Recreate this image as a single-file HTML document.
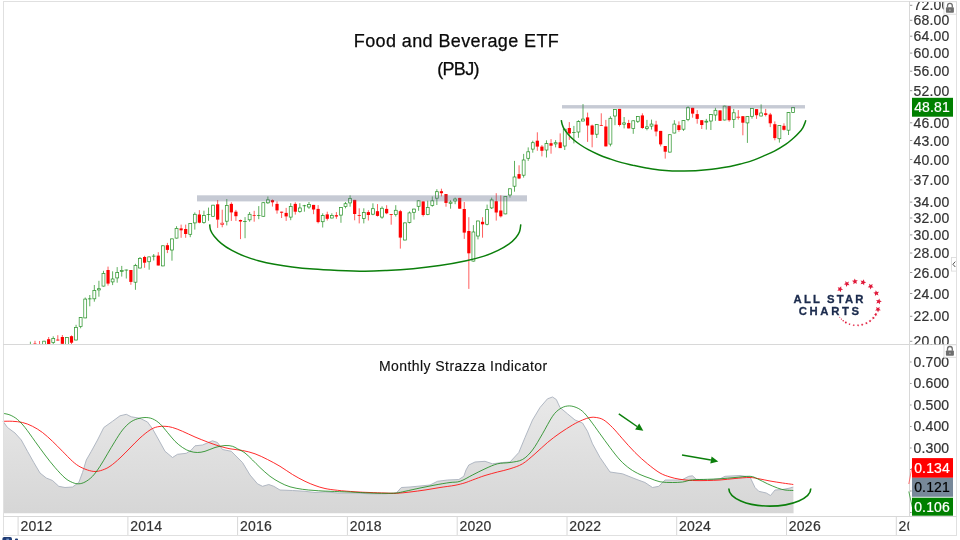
<!DOCTYPE html>
<html lang="en"><head><meta charset="utf-8"><title>Food and Beverage ETF (PBJ)</title>
<style>
html,body{margin:0;padding:0;background:#ffffff;}
body{width:960px;height:540px;overflow:hidden;position:relative;font-family:"Liberation Sans","DejaVu Sans",sans-serif;}
svg text{white-space:pre;}
</style></head><body>
<svg width="960" height="540" viewBox="0 0 960 540" style="position:absolute;left:0;top:0;display:block">
<defs>
<linearGradient id="gfill" x1="0" y1="395" x2="0" y2="513" gradientUnits="userSpaceOnUse"><stop offset="0" stop-color="#e9e9e9"/><stop offset="1" stop-color="#d6d6d6"/></linearGradient>
<clipPath id="cpPrice"><rect x="4" y="2" width="905" height="342.3"/></clipPath>
<clipPath id="cpAxP"><rect x="910" y="2" width="46" height="342.3"/></clipPath>
<clipPath id="cpAxI"><rect x="910" y="345" width="46" height="171"/></clipPath>
<clipPath id="cpTime"><rect x="4" y="517" width="905.3" height="18"/></clipPath>
<clipPath id="cpBot"><rect x="0" y="537" width="960" height="3"/></clipPath>
</defs>
<rect x="0" y="0" width="960" height="540" fill="#ffffff"/>
<g clip-path="url(#cpPrice)">
<line x1="30.40" y1="341.7" x2="30.40" y2="345.0" stroke="#008000" stroke-width="0.85" stroke-opacity="0.75"/>
<rect x="28.95" y="346.4" width="2.9" height="0.2" fill="#ffffff" stroke="#008000" stroke-width="0.75" stroke-opacity="0.8"/>
<line x1="34.97" y1="340.8" x2="34.97" y2="345.0" stroke="#ff0000" stroke-width="0.85" stroke-opacity="0.75"/>
<rect x="33.37" y="343.6" width="3.2" height="2.4" fill="#ff0000"/>
<line x1="39.54" y1="341.0" x2="39.54" y2="345.0" stroke="#ff0000" stroke-width="0.85" stroke-opacity="0.75"/>
<rect x="37.94" y="346.0" width="3.2" height="1.0" fill="#ff0000"/>
<line x1="44.11" y1="340.8" x2="44.11" y2="345.0" stroke="#008000" stroke-width="0.85" stroke-opacity="0.75"/>
<rect x="42.66" y="341.2" width="2.9" height="5.4" fill="#ffffff" stroke="#008000" stroke-width="0.75" stroke-opacity="0.8"/>
<line x1="48.67" y1="337.0" x2="48.67" y2="344.0" stroke="#ff0000" stroke-width="0.85" stroke-opacity="0.75"/>
<rect x="47.07" y="339.2" width="3.2" height="4.8" fill="#ff0000"/>
<line x1="53.24" y1="336.3" x2="53.24" y2="344.2" stroke="#008000" stroke-width="0.85" stroke-opacity="0.75"/>
<rect x="51.79" y="338.4" width="2.9" height="4.2" fill="#ffffff" stroke="#008000" stroke-width="0.75" stroke-opacity="0.8"/>
<line x1="57.81" y1="335.2" x2="57.81" y2="340.5" stroke="#ff0000" stroke-width="0.85" stroke-opacity="0.75"/>
<rect x="56.21" y="339.6" width="3.2" height="0.9" fill="#ff0000"/>
<line x1="62.37" y1="335.0" x2="62.37" y2="343.8" stroke="#ff0000" stroke-width="0.85" stroke-opacity="0.75"/>
<rect x="60.77" y="337.0" width="3.2" height="6.8" fill="#ff0000"/>
<line x1="66.94" y1="337.0" x2="66.94" y2="345.0" stroke="#008000" stroke-width="0.85" stroke-opacity="0.75"/>
<rect x="65.49" y="337.4" width="2.9" height="9.2" fill="#ffffff" stroke="#008000" stroke-width="0.75" stroke-opacity="0.8"/>
<line x1="71.51" y1="335.4" x2="71.51" y2="344.2" stroke="#ff0000" stroke-width="0.85" stroke-opacity="0.75"/>
<rect x="69.91" y="336.2" width="3.2" height="6.5" fill="#ff0000"/>
<line x1="76.07" y1="324.8" x2="76.07" y2="340.4" stroke="#008000" stroke-width="0.85" stroke-opacity="0.75"/>
<rect x="74.62" y="327.4" width="2.9" height="12.6" fill="#ffffff" stroke="#008000" stroke-width="0.75" stroke-opacity="0.8"/>
<line x1="80.64" y1="317.2" x2="80.64" y2="328.3" stroke="#008000" stroke-width="0.85" stroke-opacity="0.75"/>
<rect x="79.19" y="317.6" width="2.9" height="9.0" fill="#ffffff" stroke="#008000" stroke-width="0.75" stroke-opacity="0.8"/>
<line x1="85.21" y1="297.5" x2="85.21" y2="318.3" stroke="#008000" stroke-width="0.85" stroke-opacity="0.75"/>
<rect x="83.76" y="299.1" width="2.9" height="18.8" fill="#ffffff" stroke="#008000" stroke-width="0.75" stroke-opacity="0.8"/>
<line x1="89.77" y1="295.0" x2="89.77" y2="306.3" stroke="#008000" stroke-width="0.85" stroke-opacity="0.75"/>
<rect x="88.32" y="298.8" width="2.9" height="0.1" fill="#ffffff" stroke="#008000" stroke-width="0.75" stroke-opacity="0.8"/>
<line x1="94.34" y1="285.0" x2="94.34" y2="301.7" stroke="#008000" stroke-width="0.85" stroke-opacity="0.75"/>
<rect x="92.89" y="290.4" width="2.9" height="8.4" fill="#ffffff" stroke="#008000" stroke-width="0.75" stroke-opacity="0.8"/>
<line x1="98.91" y1="280.8" x2="98.91" y2="296.7" stroke="#008000" stroke-width="0.85" stroke-opacity="0.75"/>
<rect x="97.46" y="288.7" width="2.9" height="1.2" fill="#ffffff" stroke="#008000" stroke-width="0.75" stroke-opacity="0.8"/>
<line x1="103.48" y1="270.8" x2="103.48" y2="286.5" stroke="#008000" stroke-width="0.85" stroke-opacity="0.75"/>
<rect x="102.03" y="273.4" width="2.9" height="12.7" fill="#ffffff" stroke="#008000" stroke-width="0.75" stroke-opacity="0.8"/>
<line x1="108.04" y1="266.6" x2="108.04" y2="285.6" stroke="#ff0000" stroke-width="0.85" stroke-opacity="0.75"/>
<rect x="106.44" y="270.0" width="3.2" height="13.6" fill="#ff0000"/>
<line x1="112.61" y1="271.3" x2="112.61" y2="285.1" stroke="#008000" stroke-width="0.85" stroke-opacity="0.75"/>
<rect x="111.16" y="279.0" width="2.9" height="2.9" fill="#ffffff" stroke="#008000" stroke-width="0.75" stroke-opacity="0.8"/>
<line x1="117.18" y1="267.1" x2="117.18" y2="282.7" stroke="#008000" stroke-width="0.85" stroke-opacity="0.75"/>
<rect x="115.73" y="272.6" width="2.9" height="5.3" fill="#ffffff" stroke="#008000" stroke-width="0.75" stroke-opacity="0.8"/>
<line x1="121.74" y1="265.9" x2="121.74" y2="276.6" stroke="#008000" stroke-width="0.85" stroke-opacity="0.75"/>
<rect x="120.29" y="270.4" width="2.9" height="1.0" fill="#ffffff" stroke="#008000" stroke-width="0.75" stroke-opacity="0.8"/>
<line x1="126.31" y1="269.6" x2="126.31" y2="278.5" stroke="#008000" stroke-width="0.85" stroke-opacity="0.75"/>
<rect x="124.86" y="270.0" width="2.9" height="0.1" fill="#ffffff" stroke="#008000" stroke-width="0.75" stroke-opacity="0.8"/>
<line x1="130.88" y1="270.0" x2="130.88" y2="284.8" stroke="#ff0000" stroke-width="0.85" stroke-opacity="0.75"/>
<rect x="129.28" y="270.0" width="3.2" height="11.9" fill="#ff0000"/>
<line x1="135.45" y1="263.8" x2="135.45" y2="289.8" stroke="#008000" stroke-width="0.85" stroke-opacity="0.75"/>
<rect x="134.00" y="265.4" width="2.9" height="16.8" fill="#ffffff" stroke="#008000" stroke-width="0.75" stroke-opacity="0.8"/>
<line x1="140.01" y1="257.0" x2="140.01" y2="268.4" stroke="#008000" stroke-width="0.85" stroke-opacity="0.75"/>
<rect x="138.56" y="258.4" width="2.9" height="9.6" fill="#ffffff" stroke="#008000" stroke-width="0.75" stroke-opacity="0.8"/>
<line x1="144.58" y1="255.8" x2="144.58" y2="267.8" stroke="#ff0000" stroke-width="0.85" stroke-opacity="0.75"/>
<rect x="142.98" y="257.0" width="3.2" height="5.7" fill="#ff0000"/>
<line x1="149.15" y1="256.5" x2="149.15" y2="269.7" stroke="#008000" stroke-width="0.85" stroke-opacity="0.75"/>
<rect x="147.70" y="256.9" width="2.9" height="4.8" fill="#ffffff" stroke="#008000" stroke-width="0.75" stroke-opacity="0.8"/>
<line x1="153.71" y1="254.0" x2="153.71" y2="260.5" stroke="#008000" stroke-width="0.85" stroke-opacity="0.75"/>
<rect x="152.26" y="256.1" width="2.9" height="0.1" fill="#ffffff" stroke="#008000" stroke-width="0.75" stroke-opacity="0.8"/>
<line x1="158.28" y1="252.2" x2="158.28" y2="265.5" stroke="#ff0000" stroke-width="0.85" stroke-opacity="0.75"/>
<rect x="156.68" y="255.6" width="3.2" height="9.9" fill="#ff0000"/>
<line x1="162.85" y1="245.4" x2="162.85" y2="266.3" stroke="#008000" stroke-width="0.85" stroke-opacity="0.75"/>
<rect x="161.40" y="245.8" width="2.9" height="20.1" fill="#ffffff" stroke="#008000" stroke-width="0.75" stroke-opacity="0.8"/>
<line x1="167.41" y1="242.9" x2="167.41" y2="253.1" stroke="#ff0000" stroke-width="0.85" stroke-opacity="0.75"/>
<rect x="165.81" y="245.2" width="3.2" height="4.7" fill="#ff0000"/>
<line x1="171.98" y1="238.5" x2="171.98" y2="260.7" stroke="#008000" stroke-width="0.85" stroke-opacity="0.75"/>
<rect x="170.53" y="238.9" width="2.9" height="11.1" fill="#ffffff" stroke="#008000" stroke-width="0.75" stroke-opacity="0.8"/>
<line x1="176.55" y1="226.2" x2="176.55" y2="238.5" stroke="#008000" stroke-width="0.85" stroke-opacity="0.75"/>
<rect x="175.10" y="228.4" width="2.9" height="9.7" fill="#ffffff" stroke="#008000" stroke-width="0.75" stroke-opacity="0.8"/>
<line x1="181.12" y1="224.6" x2="181.12" y2="237.8" stroke="#ff0000" stroke-width="0.85" stroke-opacity="0.75"/>
<rect x="179.52" y="228.4" width="3.2" height="1.9" fill="#ff0000"/>
<line x1="185.68" y1="224.6" x2="185.68" y2="237.8" stroke="#ff0000" stroke-width="0.85" stroke-opacity="0.75"/>
<rect x="184.08" y="229.0" width="3.2" height="5.0" fill="#ff0000"/>
<line x1="190.25" y1="223.0" x2="190.25" y2="237.2" stroke="#008000" stroke-width="0.85" stroke-opacity="0.75"/>
<rect x="188.80" y="223.4" width="2.9" height="10.9" fill="#ffffff" stroke="#008000" stroke-width="0.75" stroke-opacity="0.8"/>
<line x1="194.82" y1="212.4" x2="194.82" y2="229.6" stroke="#008000" stroke-width="0.85" stroke-opacity="0.75"/>
<rect x="193.37" y="214.3" width="2.9" height="8.6" fill="#ffffff" stroke="#008000" stroke-width="0.75" stroke-opacity="0.8"/>
<line x1="199.38" y1="210.1" x2="199.38" y2="223.3" stroke="#ff0000" stroke-width="0.85" stroke-opacity="0.75"/>
<rect x="197.78" y="214.5" width="3.2" height="8.2" fill="#ff0000"/>
<line x1="203.95" y1="210.7" x2="203.95" y2="223.7" stroke="#008000" stroke-width="0.85" stroke-opacity="0.75"/>
<rect x="202.50" y="215.6" width="2.9" height="7.0" fill="#ffffff" stroke="#008000" stroke-width="0.75" stroke-opacity="0.8"/>
<line x1="208.52" y1="207.6" x2="208.52" y2="220.8" stroke="#008000" stroke-width="0.85" stroke-opacity="0.75"/>
<rect x="207.07" y="214.5" width="2.9" height="0.1" fill="#ffffff" stroke="#008000" stroke-width="0.75" stroke-opacity="0.8"/>
<line x1="213.08" y1="204.8" x2="213.08" y2="216.7" stroke="#008000" stroke-width="0.85" stroke-opacity="0.75"/>
<rect x="211.63" y="205.2" width="2.9" height="11.1" fill="#ffffff" stroke="#008000" stroke-width="0.75" stroke-opacity="0.8"/>
<line x1="217.65" y1="200.0" x2="217.65" y2="227.9" stroke="#ff0000" stroke-width="0.85" stroke-opacity="0.75"/>
<rect x="216.05" y="204.3" width="3.2" height="15.3" fill="#ff0000"/>
<line x1="222.22" y1="209.7" x2="222.22" y2="227.3" stroke="#ff0000" stroke-width="0.85" stroke-opacity="0.75"/>
<rect x="220.77" y="223.2" width="2.9" height="1.2" fill="#ffffff" stroke="#ff0000" stroke-width="0.75" stroke-opacity="0.8"/>
<line x1="226.79" y1="199.0" x2="226.79" y2="225.4" stroke="#008000" stroke-width="0.85" stroke-opacity="0.75"/>
<rect x="225.34" y="205.5" width="2.9" height="15.7" fill="#ffffff" stroke="#008000" stroke-width="0.75" stroke-opacity="0.8"/>
<line x1="231.35" y1="202.3" x2="231.35" y2="220.9" stroke="#ff0000" stroke-width="0.85" stroke-opacity="0.75"/>
<rect x="229.75" y="203.9" width="3.2" height="8.5" fill="#ff0000"/>
<line x1="235.92" y1="209.9" x2="235.92" y2="220.9" stroke="#ff0000" stroke-width="0.85" stroke-opacity="0.75"/>
<rect x="234.32" y="211.7" width="3.2" height="4.5" fill="#ff0000"/>
<line x1="240.49" y1="219.6" x2="240.49" y2="239.1" stroke="#ff0000" stroke-width="0.85" stroke-opacity="0.75"/>
<rect x="238.89" y="220.0" width="3.2" height="1.5" fill="#ff0000"/>
<line x1="245.05" y1="217.1" x2="245.05" y2="238.2" stroke="#008000" stroke-width="0.85" stroke-opacity="0.75"/>
<rect x="243.60" y="221.5" width="2.9" height="0.1" fill="#ffffff" stroke="#008000" stroke-width="0.75" stroke-opacity="0.8"/>
<line x1="249.62" y1="212.0" x2="249.62" y2="221.7" stroke="#008000" stroke-width="0.85" stroke-opacity="0.75"/>
<rect x="248.17" y="214.3" width="2.9" height="5.5" fill="#ffffff" stroke="#008000" stroke-width="0.75" stroke-opacity="0.8"/>
<line x1="254.19" y1="210.8" x2="254.19" y2="221.7" stroke="#ff0000" stroke-width="0.85" stroke-opacity="0.75"/>
<rect x="252.59" y="215.0" width="3.2" height="0.7" fill="#ff0000"/>
<line x1="258.75" y1="206.1" x2="258.75" y2="219.2" stroke="#008000" stroke-width="0.85" stroke-opacity="0.75"/>
<rect x="257.30" y="215.4" width="2.9" height="0.1" fill="#ffffff" stroke="#008000" stroke-width="0.75" stroke-opacity="0.8"/>
<line x1="263.32" y1="202.3" x2="263.32" y2="216.7" stroke="#008000" stroke-width="0.85" stroke-opacity="0.75"/>
<rect x="261.87" y="202.7" width="2.9" height="13.6" fill="#ffffff" stroke="#008000" stroke-width="0.75" stroke-opacity="0.8"/>
<line x1="267.89" y1="196.5" x2="267.89" y2="203.9" stroke="#008000" stroke-width="0.85" stroke-opacity="0.75"/>
<rect x="266.44" y="199.8" width="2.9" height="3.0" fill="#ffffff" stroke="#008000" stroke-width="0.75" stroke-opacity="0.8"/>
<line x1="272.45" y1="199.4" x2="272.45" y2="206.6" stroke="#ff0000" stroke-width="0.85" stroke-opacity="0.75"/>
<rect x="270.85" y="200.1" width="3.2" height="2.2" fill="#ff0000"/>
<line x1="277.02" y1="201.3" x2="277.02" y2="213.7" stroke="#ff0000" stroke-width="0.85" stroke-opacity="0.75"/>
<rect x="275.42" y="203.9" width="3.2" height="6.5" fill="#ff0000"/>
<line x1="281.59" y1="211.7" x2="281.59" y2="218.0" stroke="#ff0000" stroke-width="0.85" stroke-opacity="0.75"/>
<rect x="279.99" y="211.7" width="3.2" height="1.0" fill="#ff0000"/>
<line x1="286.16" y1="207.9" x2="286.16" y2="220.9" stroke="#ff0000" stroke-width="0.85" stroke-opacity="0.75"/>
<rect x="284.56" y="212.9" width="3.2" height="3.5" fill="#ff0000"/>
<line x1="290.72" y1="203.2" x2="290.72" y2="220.2" stroke="#008000" stroke-width="0.85" stroke-opacity="0.75"/>
<rect x="289.27" y="206.5" width="2.9" height="10.6" fill="#ffffff" stroke="#008000" stroke-width="0.75" stroke-opacity="0.8"/>
<line x1="295.29" y1="202.3" x2="295.29" y2="214.6" stroke="#ff0000" stroke-width="0.85" stroke-opacity="0.75"/>
<rect x="293.69" y="203.9" width="3.2" height="7.8" fill="#ff0000"/>
<line x1="299.86" y1="203.2" x2="299.86" y2="212.7" stroke="#008000" stroke-width="0.85" stroke-opacity="0.75"/>
<rect x="298.41" y="208.0" width="2.9" height="3.6" fill="#ffffff" stroke="#008000" stroke-width="0.75" stroke-opacity="0.8"/>
<line x1="304.42" y1="204.9" x2="304.42" y2="211.7" stroke="#008000" stroke-width="0.85" stroke-opacity="0.75"/>
<rect x="302.97" y="205.7" width="2.9" height="0.1" fill="#ffffff" stroke="#008000" stroke-width="0.75" stroke-opacity="0.8"/>
<line x1="308.99" y1="202.0" x2="308.99" y2="208.9" stroke="#008000" stroke-width="0.85" stroke-opacity="0.75"/>
<rect x="307.54" y="204.5" width="2.9" height="2.5" fill="#ffffff" stroke="#008000" stroke-width="0.75" stroke-opacity="0.8"/>
<line x1="313.56" y1="204.9" x2="313.56" y2="214.2" stroke="#ff0000" stroke-width="0.85" stroke-opacity="0.75"/>
<rect x="311.96" y="204.9" width="3.2" height="4.6" fill="#ff0000"/>
<line x1="318.12" y1="205.1" x2="318.12" y2="223.4" stroke="#ff0000" stroke-width="0.85" stroke-opacity="0.75"/>
<rect x="316.52" y="208.9" width="3.2" height="13.2" fill="#ff0000"/>
<line x1="322.69" y1="213.3" x2="322.69" y2="227.5" stroke="#008000" stroke-width="0.85" stroke-opacity="0.75"/>
<rect x="321.24" y="215.6" width="2.9" height="6.1" fill="#ffffff" stroke="#008000" stroke-width="0.75" stroke-opacity="0.8"/>
<line x1="327.26" y1="211.7" x2="327.26" y2="220.5" stroke="#ff0000" stroke-width="0.85" stroke-opacity="0.75"/>
<rect x="325.66" y="214.4" width="3.2" height="4.4" fill="#ff0000"/>
<line x1="331.83" y1="213.3" x2="331.83" y2="218.4" stroke="#008000" stroke-width="0.85" stroke-opacity="0.75"/>
<rect x="330.38" y="215.4" width="2.9" height="2.6" fill="#ffffff" stroke="#008000" stroke-width="0.75" stroke-opacity="0.8"/>
<line x1="336.39" y1="212.1" x2="336.39" y2="218.8" stroke="#ff0000" stroke-width="0.85" stroke-opacity="0.75"/>
<rect x="334.79" y="215.2" width="3.2" height="1.3" fill="#ff0000"/>
<line x1="340.96" y1="207.0" x2="340.96" y2="222.8" stroke="#008000" stroke-width="0.85" stroke-opacity="0.75"/>
<rect x="339.51" y="207.4" width="2.9" height="7.7" fill="#ffffff" stroke="#008000" stroke-width="0.75" stroke-opacity="0.8"/>
<line x1="345.53" y1="202.0" x2="345.53" y2="208.3" stroke="#008000" stroke-width="0.85" stroke-opacity="0.75"/>
<rect x="344.08" y="203.7" width="2.9" height="2.9" fill="#ffffff" stroke="#008000" stroke-width="0.75" stroke-opacity="0.8"/>
<line x1="350.09" y1="195.3" x2="350.09" y2="206.7" stroke="#008000" stroke-width="0.85" stroke-opacity="0.75"/>
<rect x="348.64" y="198.6" width="2.9" height="4.3" fill="#ffffff" stroke="#008000" stroke-width="0.75" stroke-opacity="0.8"/>
<line x1="354.66" y1="199.9" x2="354.66" y2="220.3" stroke="#ff0000" stroke-width="0.85" stroke-opacity="0.75"/>
<rect x="353.06" y="199.9" width="3.2" height="14.1" fill="#ff0000"/>
<line x1="359.23" y1="208.3" x2="359.23" y2="223.4" stroke="#ff0000" stroke-width="0.85" stroke-opacity="0.75"/>
<rect x="357.63" y="215.2" width="3.2" height="0.8" fill="#ff0000"/>
<line x1="363.80" y1="208.3" x2="363.80" y2="223.4" stroke="#008000" stroke-width="0.85" stroke-opacity="0.75"/>
<rect x="362.35" y="212.5" width="2.9" height="5.9" fill="#ffffff" stroke="#008000" stroke-width="0.75" stroke-opacity="0.8"/>
<line x1="368.36" y1="210.2" x2="368.36" y2="220.5" stroke="#ff0000" stroke-width="0.85" stroke-opacity="0.75"/>
<rect x="366.76" y="212.1" width="3.2" height="2.9" fill="#ff0000"/>
<line x1="372.93" y1="203.3" x2="372.93" y2="215.2" stroke="#008000" stroke-width="0.85" stroke-opacity="0.75"/>
<rect x="371.48" y="208.7" width="2.9" height="5.5" fill="#ffffff" stroke="#008000" stroke-width="0.75" stroke-opacity="0.8"/>
<line x1="377.50" y1="204.1" x2="377.50" y2="216.5" stroke="#ff0000" stroke-width="0.85" stroke-opacity="0.75"/>
<rect x="375.90" y="211.2" width="3.2" height="4.7" fill="#ff0000"/>
<line x1="382.06" y1="206.4" x2="382.06" y2="218.8" stroke="#008000" stroke-width="0.85" stroke-opacity="0.75"/>
<rect x="380.61" y="208.3" width="2.9" height="8.8" fill="#ffffff" stroke="#008000" stroke-width="0.75" stroke-opacity="0.8"/>
<line x1="386.63" y1="205.2" x2="386.63" y2="214.2" stroke="#ff0000" stroke-width="0.85" stroke-opacity="0.75"/>
<rect x="385.03" y="208.9" width="3.2" height="4.4" fill="#ff0000"/>
<line x1="391.20" y1="214.2" x2="391.20" y2="224.7" stroke="#ff0000" stroke-width="0.85" stroke-opacity="0.75"/>
<rect x="389.60" y="214.2" width="3.2" height="0.8" fill="#ff0000"/>
<line x1="395.76" y1="205.2" x2="395.76" y2="216.5" stroke="#008000" stroke-width="0.85" stroke-opacity="0.75"/>
<rect x="394.31" y="210.3" width="2.9" height="4.3" fill="#ffffff" stroke="#008000" stroke-width="0.75" stroke-opacity="0.8"/>
<line x1="400.33" y1="209.9" x2="400.33" y2="248.6" stroke="#ff0000" stroke-width="0.85" stroke-opacity="0.75"/>
<rect x="398.73" y="211.2" width="3.2" height="26.4" fill="#ff0000"/>
<line x1="404.90" y1="222.5" x2="404.90" y2="240.4" stroke="#008000" stroke-width="0.85" stroke-opacity="0.75"/>
<rect x="403.45" y="222.9" width="2.9" height="17.1" fill="#ffffff" stroke="#008000" stroke-width="0.75" stroke-opacity="0.8"/>
<line x1="409.46" y1="211.4" x2="409.46" y2="223.4" stroke="#008000" stroke-width="0.85" stroke-opacity="0.75"/>
<rect x="408.01" y="212.9" width="2.9" height="9.5" fill="#ffffff" stroke="#008000" stroke-width="0.75" stroke-opacity="0.8"/>
<line x1="414.03" y1="208.7" x2="414.03" y2="219.6" stroke="#008000" stroke-width="0.85" stroke-opacity="0.75"/>
<rect x="412.58" y="209.1" width="2.9" height="3.2" fill="#ffffff" stroke="#008000" stroke-width="0.75" stroke-opacity="0.8"/>
<line x1="418.60" y1="200.4" x2="418.60" y2="210.8" stroke="#008000" stroke-width="0.85" stroke-opacity="0.75"/>
<rect x="417.15" y="200.8" width="2.9" height="5.5" fill="#ffffff" stroke="#008000" stroke-width="0.75" stroke-opacity="0.8"/>
<line x1="423.17" y1="201.4" x2="423.17" y2="216.5" stroke="#ff0000" stroke-width="0.85" stroke-opacity="0.75"/>
<rect x="421.57" y="201.4" width="3.2" height="13.6" fill="#ff0000"/>
<line x1="427.73" y1="200.7" x2="427.73" y2="215.2" stroke="#008000" stroke-width="0.85" stroke-opacity="0.75"/>
<rect x="426.28" y="207.4" width="2.9" height="7.2" fill="#ffffff" stroke="#008000" stroke-width="0.75" stroke-opacity="0.8"/>
<line x1="432.30" y1="196.4" x2="432.30" y2="206.7" stroke="#008000" stroke-width="0.85" stroke-opacity="0.75"/>
<rect x="430.85" y="200.8" width="2.9" height="4.6" fill="#ffffff" stroke="#008000" stroke-width="0.75" stroke-opacity="0.8"/>
<line x1="436.87" y1="189.2" x2="436.87" y2="205.0" stroke="#008000" stroke-width="0.85" stroke-opacity="0.75"/>
<rect x="435.42" y="191.7" width="2.9" height="6.5" fill="#ffffff" stroke="#008000" stroke-width="0.75" stroke-opacity="0.8"/>
<line x1="441.43" y1="188.7" x2="441.43" y2="196.4" stroke="#ff0000" stroke-width="0.85" stroke-opacity="0.75"/>
<rect x="439.83" y="191.2" width="3.2" height="2.0" fill="#ff0000"/>
<line x1="446.00" y1="194.1" x2="446.00" y2="206.7" stroke="#ff0000" stroke-width="0.85" stroke-opacity="0.75"/>
<rect x="444.40" y="194.1" width="3.2" height="8.8" fill="#ff0000"/>
<line x1="450.57" y1="200.2" x2="450.57" y2="208.7" stroke="#008000" stroke-width="0.85" stroke-opacity="0.75"/>
<rect x="449.12" y="202.1" width="2.9" height="1.2" fill="#ffffff" stroke="#008000" stroke-width="0.75" stroke-opacity="0.8"/>
<line x1="455.13" y1="197.6" x2="455.13" y2="204.2" stroke="#008000" stroke-width="0.85" stroke-opacity="0.75"/>
<rect x="453.69" y="199.0" width="2.9" height="2.0" fill="#ffffff" stroke="#008000" stroke-width="0.75" stroke-opacity="0.8"/>
<line x1="459.70" y1="197.9" x2="459.70" y2="208.7" stroke="#ff0000" stroke-width="0.85" stroke-opacity="0.75"/>
<rect x="458.10" y="197.9" width="3.2" height="10.8" fill="#ff0000"/>
<line x1="464.27" y1="202.0" x2="464.27" y2="238.9" stroke="#ff0000" stroke-width="0.85" stroke-opacity="0.75"/>
<rect x="462.67" y="209.0" width="3.2" height="23.6" fill="#ff0000"/>
<line x1="468.84" y1="217.2" x2="468.84" y2="288.9" stroke="#ff0000" stroke-width="0.85" stroke-opacity="0.75"/>
<rect x="467.24" y="231.0" width="3.2" height="22.3" fill="#ff0000"/>
<line x1="473.40" y1="225.1" x2="473.40" y2="261.5" stroke="#008000" stroke-width="0.85" stroke-opacity="0.75"/>
<rect x="471.95" y="232.0" width="2.9" height="29.1" fill="#ffffff" stroke="#008000" stroke-width="0.75" stroke-opacity="0.8"/>
<line x1="477.97" y1="220.6" x2="477.97" y2="239.4" stroke="#008000" stroke-width="0.85" stroke-opacity="0.75"/>
<rect x="476.52" y="221.0" width="2.9" height="15.0" fill="#ffffff" stroke="#008000" stroke-width="0.75" stroke-opacity="0.8"/>
<line x1="482.54" y1="217.2" x2="482.54" y2="237.7" stroke="#ff0000" stroke-width="0.85" stroke-opacity="0.75"/>
<rect x="480.94" y="221.8" width="3.2" height="2.5" fill="#ff0000"/>
<line x1="487.10" y1="204.6" x2="487.10" y2="225.3" stroke="#008000" stroke-width="0.85" stroke-opacity="0.75"/>
<rect x="485.65" y="209.6" width="2.9" height="14.7" fill="#ffffff" stroke="#008000" stroke-width="0.75" stroke-opacity="0.8"/>
<line x1="491.67" y1="197.6" x2="491.67" y2="209.0" stroke="#008000" stroke-width="0.85" stroke-opacity="0.75"/>
<rect x="490.22" y="199.9" width="2.9" height="8.0" fill="#ffffff" stroke="#008000" stroke-width="0.75" stroke-opacity="0.8"/>
<line x1="496.24" y1="193.2" x2="496.24" y2="220.6" stroke="#ff0000" stroke-width="0.85" stroke-opacity="0.75"/>
<rect x="494.64" y="201.2" width="3.2" height="11.3" fill="#ff0000"/>
<line x1="500.81" y1="195.4" x2="500.81" y2="217.5" stroke="#ff0000" stroke-width="0.85" stroke-opacity="0.75"/>
<rect x="499.20" y="210.5" width="3.2" height="5.8" fill="#ff0000"/>
<line x1="505.37" y1="196.1" x2="505.37" y2="214.3" stroke="#008000" stroke-width="0.85" stroke-opacity="0.75"/>
<rect x="503.92" y="196.5" width="2.9" height="17.4" fill="#ffffff" stroke="#008000" stroke-width="0.75" stroke-opacity="0.8"/>
<line x1="509.94" y1="188.4" x2="509.94" y2="197.6" stroke="#008000" stroke-width="0.85" stroke-opacity="0.75"/>
<rect x="508.49" y="188.8" width="2.9" height="6.2" fill="#ffffff" stroke="#008000" stroke-width="0.75" stroke-opacity="0.8"/>
<line x1="514.51" y1="160.9" x2="514.51" y2="191.7" stroke="#008000" stroke-width="0.85" stroke-opacity="0.75"/>
<rect x="513.06" y="177.0" width="2.9" height="9.2" fill="#ffffff" stroke="#008000" stroke-width="0.75" stroke-opacity="0.8"/>
<line x1="519.07" y1="165.3" x2="519.07" y2="179.1" stroke="#ff0000" stroke-width="0.85" stroke-opacity="0.75"/>
<rect x="517.47" y="174.1" width="3.2" height="4.4" fill="#ff0000"/>
<line x1="523.64" y1="153.9" x2="523.64" y2="177.6" stroke="#008000" stroke-width="0.85" stroke-opacity="0.75"/>
<rect x="522.19" y="160.0" width="2.9" height="15.2" fill="#ffffff" stroke="#008000" stroke-width="0.75" stroke-opacity="0.8"/>
<line x1="528.21" y1="147.4" x2="528.21" y2="160.9" stroke="#008000" stroke-width="0.85" stroke-opacity="0.75"/>
<rect x="526.76" y="151.8" width="2.9" height="6.5" fill="#ffffff" stroke="#008000" stroke-width="0.75" stroke-opacity="0.8"/>
<line x1="532.77" y1="140.7" x2="532.77" y2="152.7" stroke="#008000" stroke-width="0.85" stroke-opacity="0.75"/>
<rect x="531.32" y="142.7" width="2.9" height="6.4" fill="#ffffff" stroke="#008000" stroke-width="0.75" stroke-opacity="0.8"/>
<line x1="537.34" y1="132.3" x2="537.34" y2="150.8" stroke="#ff0000" stroke-width="0.85" stroke-opacity="0.75"/>
<rect x="535.74" y="140.7" width="3.2" height="5.9" fill="#ff0000"/>
<line x1="541.91" y1="145.1" x2="541.91" y2="156.4" stroke="#ff0000" stroke-width="0.85" stroke-opacity="0.75"/>
<rect x="540.31" y="146.6" width="3.2" height="4.2" fill="#ff0000"/>
<line x1="546.48" y1="140.3" x2="546.48" y2="157.5" stroke="#008000" stroke-width="0.85" stroke-opacity="0.75"/>
<rect x="545.02" y="143.6" width="2.9" height="6.4" fill="#ffffff" stroke="#008000" stroke-width="0.75" stroke-opacity="0.8"/>
<line x1="551.04" y1="139.1" x2="551.04" y2="153.7" stroke="#ff0000" stroke-width="0.85" stroke-opacity="0.75"/>
<rect x="549.44" y="143.2" width="3.2" height="2.5" fill="#ff0000"/>
<line x1="555.61" y1="140.1" x2="555.61" y2="147.4" stroke="#008000" stroke-width="0.85" stroke-opacity="0.75"/>
<rect x="554.16" y="142.7" width="2.9" height="1.2" fill="#ffffff" stroke="#008000" stroke-width="0.75" stroke-opacity="0.8"/>
<line x1="560.18" y1="133.4" x2="560.18" y2="148.1" stroke="#ff0000" stroke-width="0.85" stroke-opacity="0.75"/>
<rect x="558.58" y="142.3" width="3.2" height="5.8" fill="#ff0000"/>
<line x1="564.74" y1="128.8" x2="564.74" y2="150.0" stroke="#008000" stroke-width="0.85" stroke-opacity="0.75"/>
<rect x="563.29" y="129.2" width="2.9" height="16.8" fill="#ffffff" stroke="#008000" stroke-width="0.75" stroke-opacity="0.8"/>
<line x1="569.31" y1="122.1" x2="569.31" y2="139.9" stroke="#ff0000" stroke-width="0.85" stroke-opacity="0.75"/>
<rect x="567.71" y="128.0" width="3.2" height="5.5" fill="#ff0000"/>
<line x1="573.88" y1="125.9" x2="573.88" y2="143.4" stroke="#008000" stroke-width="0.85" stroke-opacity="0.75"/>
<rect x="572.43" y="132.4" width="2.9" height="0.1" fill="#ffffff" stroke="#008000" stroke-width="0.75" stroke-opacity="0.8"/>
<line x1="578.44" y1="120.2" x2="578.44" y2="137.8" stroke="#008000" stroke-width="0.85" stroke-opacity="0.75"/>
<rect x="576.99" y="121.6" width="2.9" height="10.4" fill="#ffffff" stroke="#008000" stroke-width="0.75" stroke-opacity="0.8"/>
<line x1="583.01" y1="104.1" x2="583.01" y2="121.4" stroke="#008000" stroke-width="0.85" stroke-opacity="0.75"/>
<rect x="581.56" y="119.1" width="2.9" height="1.9" fill="#ffffff" stroke="#008000" stroke-width="0.75" stroke-opacity="0.8"/>
<line x1="587.58" y1="112.6" x2="587.58" y2="141.9" stroke="#ff0000" stroke-width="0.85" stroke-opacity="0.75"/>
<rect x="585.98" y="117.4" width="3.2" height="8.1" fill="#ff0000"/>
<line x1="592.14" y1="124.6" x2="592.14" y2="147.3" stroke="#ff0000" stroke-width="0.85" stroke-opacity="0.75"/>
<rect x="590.54" y="125.5" width="3.2" height="9.2" fill="#ff0000"/>
<line x1="596.71" y1="124.2" x2="596.71" y2="138.0" stroke="#008000" stroke-width="0.85" stroke-opacity="0.75"/>
<rect x="595.26" y="124.6" width="2.9" height="9.6" fill="#ffffff" stroke="#008000" stroke-width="0.75" stroke-opacity="0.8"/>
<line x1="601.28" y1="113.3" x2="601.28" y2="125.8" stroke="#ff0000" stroke-width="0.85" stroke-opacity="0.75"/>
<rect x="599.68" y="125.1" width="3.2" height="0.7" fill="#ff0000"/>
<line x1="605.85" y1="119.9" x2="605.85" y2="146.4" stroke="#ff0000" stroke-width="0.85" stroke-opacity="0.75"/>
<rect x="604.25" y="126.5" width="3.2" height="19.9" fill="#ff0000"/>
<line x1="610.41" y1="116.2" x2="610.41" y2="146.4" stroke="#008000" stroke-width="0.85" stroke-opacity="0.75"/>
<rect x="608.96" y="118.3" width="2.9" height="25.8" fill="#ffffff" stroke="#008000" stroke-width="0.75" stroke-opacity="0.8"/>
<line x1="614.98" y1="109.1" x2="614.98" y2="125.2" stroke="#008000" stroke-width="0.85" stroke-opacity="0.75"/>
<rect x="613.53" y="109.5" width="2.9" height="6.5" fill="#ffffff" stroke="#008000" stroke-width="0.75" stroke-opacity="0.8"/>
<line x1="619.55" y1="108.9" x2="619.55" y2="126.5" stroke="#ff0000" stroke-width="0.85" stroke-opacity="0.75"/>
<rect x="617.95" y="108.9" width="3.2" height="16.1" fill="#ff0000"/>
<line x1="624.11" y1="117.0" x2="624.11" y2="128.4" stroke="#008000" stroke-width="0.85" stroke-opacity="0.75"/>
<rect x="622.66" y="122.9" width="2.9" height="1.3" fill="#ffffff" stroke="#008000" stroke-width="0.75" stroke-opacity="0.8"/>
<line x1="628.68" y1="119.9" x2="628.68" y2="128.4" stroke="#ff0000" stroke-width="0.85" stroke-opacity="0.75"/>
<rect x="627.08" y="123.0" width="3.2" height="5.4" fill="#ff0000"/>
<line x1="633.25" y1="120.4" x2="633.25" y2="133.8" stroke="#008000" stroke-width="0.85" stroke-opacity="0.75"/>
<rect x="631.80" y="120.8" width="2.9" height="7.8" fill="#ffffff" stroke="#008000" stroke-width="0.75" stroke-opacity="0.8"/>
<line x1="637.82" y1="116.2" x2="637.82" y2="123.0" stroke="#008000" stroke-width="0.85" stroke-opacity="0.75"/>
<rect x="636.37" y="116.6" width="2.9" height="4.7" fill="#ffffff" stroke="#008000" stroke-width="0.75" stroke-opacity="0.8"/>
<line x1="642.38" y1="113.3" x2="642.38" y2="128.8" stroke="#ff0000" stroke-width="0.85" stroke-opacity="0.75"/>
<rect x="640.78" y="115.4" width="3.2" height="12.6" fill="#ff0000"/>
<line x1="646.95" y1="119.9" x2="646.95" y2="130.3" stroke="#008000" stroke-width="0.85" stroke-opacity="0.75"/>
<rect x="645.50" y="126.9" width="2.9" height="1.5" fill="#ffffff" stroke="#008000" stroke-width="0.75" stroke-opacity="0.8"/>
<line x1="651.52" y1="119.6" x2="651.52" y2="129.6" stroke="#008000" stroke-width="0.85" stroke-opacity="0.75"/>
<rect x="650.07" y="124.1" width="2.9" height="2.0" fill="#ffffff" stroke="#008000" stroke-width="0.75" stroke-opacity="0.8"/>
<line x1="656.08" y1="120.8" x2="656.08" y2="136.3" stroke="#ff0000" stroke-width="0.85" stroke-opacity="0.75"/>
<rect x="654.48" y="124.6" width="3.2" height="6.9" fill="#ff0000"/>
<line x1="660.65" y1="130.9" x2="660.65" y2="146.4" stroke="#ff0000" stroke-width="0.85" stroke-opacity="0.75"/>
<rect x="659.05" y="130.9" width="3.2" height="13.5" fill="#ff0000"/>
<line x1="665.22" y1="146.0" x2="665.22" y2="158.6" stroke="#ff0000" stroke-width="0.85" stroke-opacity="0.75"/>
<rect x="663.62" y="146.0" width="3.2" height="5.7" fill="#ff0000"/>
<line x1="669.78" y1="134.3" x2="669.78" y2="152.5" stroke="#008000" stroke-width="0.85" stroke-opacity="0.75"/>
<rect x="668.33" y="134.7" width="2.9" height="17.4" fill="#ffffff" stroke="#008000" stroke-width="0.75" stroke-opacity="0.8"/>
<line x1="674.35" y1="120.2" x2="674.35" y2="133.4" stroke="#008000" stroke-width="0.85" stroke-opacity="0.75"/>
<rect x="672.90" y="124.1" width="2.9" height="8.9" fill="#ffffff" stroke="#008000" stroke-width="0.75" stroke-opacity="0.8"/>
<line x1="678.92" y1="121.4" x2="678.92" y2="131.8" stroke="#ff0000" stroke-width="0.85" stroke-opacity="0.75"/>
<rect x="677.32" y="125.2" width="3.2" height="4.8" fill="#ff0000"/>
<line x1="683.49" y1="120.2" x2="683.49" y2="130.9" stroke="#008000" stroke-width="0.85" stroke-opacity="0.75"/>
<rect x="682.03" y="120.6" width="2.9" height="8.6" fill="#ffffff" stroke="#008000" stroke-width="0.75" stroke-opacity="0.8"/>
<line x1="688.05" y1="106.3" x2="688.05" y2="121.2" stroke="#008000" stroke-width="0.85" stroke-opacity="0.75"/>
<rect x="686.60" y="107.7" width="2.9" height="11.8" fill="#ffffff" stroke="#008000" stroke-width="0.75" stroke-opacity="0.8"/>
<line x1="692.62" y1="107.8" x2="692.62" y2="117.7" stroke="#ff0000" stroke-width="0.85" stroke-opacity="0.75"/>
<rect x="691.02" y="107.8" width="3.2" height="5.8" fill="#ff0000"/>
<line x1="697.19" y1="110.1" x2="697.19" y2="123.7" stroke="#ff0000" stroke-width="0.85" stroke-opacity="0.75"/>
<rect x="695.59" y="114.1" width="3.2" height="4.8" fill="#ff0000"/>
<line x1="701.75" y1="120.2" x2="701.75" y2="129.0" stroke="#ff0000" stroke-width="0.85" stroke-opacity="0.75"/>
<rect x="700.15" y="120.2" width="3.2" height="4.8" fill="#ff0000"/>
<line x1="706.32" y1="118.9" x2="706.32" y2="129.6" stroke="#008000" stroke-width="0.85" stroke-opacity="0.75"/>
<rect x="704.87" y="121.2" width="2.9" height="0.9" fill="#ffffff" stroke="#008000" stroke-width="0.75" stroke-opacity="0.8"/>
<line x1="710.89" y1="114.1" x2="710.89" y2="130.0" stroke="#008000" stroke-width="0.85" stroke-opacity="0.75"/>
<rect x="709.44" y="114.5" width="2.9" height="6.5" fill="#ffffff" stroke="#008000" stroke-width="0.75" stroke-opacity="0.8"/>
<line x1="715.45" y1="107.8" x2="715.45" y2="120.8" stroke="#008000" stroke-width="0.85" stroke-opacity="0.75"/>
<rect x="714.00" y="110.3" width="2.9" height="4.7" fill="#ffffff" stroke="#008000" stroke-width="0.75" stroke-opacity="0.8"/>
<line x1="720.02" y1="110.4" x2="720.02" y2="120.8" stroke="#ff0000" stroke-width="0.85" stroke-opacity="0.75"/>
<rect x="718.42" y="110.4" width="3.2" height="10.4" fill="#ff0000"/>
<line x1="724.59" y1="105.7" x2="724.59" y2="120.4" stroke="#008000" stroke-width="0.85" stroke-opacity="0.75"/>
<rect x="723.14" y="106.1" width="2.9" height="13.9" fill="#ffffff" stroke="#008000" stroke-width="0.75" stroke-opacity="0.8"/>
<line x1="729.15" y1="106.1" x2="729.15" y2="121.7" stroke="#ff0000" stroke-width="0.85" stroke-opacity="0.75"/>
<rect x="727.55" y="106.1" width="3.2" height="14.1" fill="#ff0000"/>
<line x1="733.72" y1="108.9" x2="733.72" y2="128.0" stroke="#008000" stroke-width="0.85" stroke-opacity="0.75"/>
<rect x="732.27" y="112.8" width="2.9" height="6.7" fill="#ffffff" stroke="#008000" stroke-width="0.75" stroke-opacity="0.8"/>
<line x1="738.29" y1="110.1" x2="738.29" y2="119.6" stroke="#ff0000" stroke-width="0.85" stroke-opacity="0.75"/>
<rect x="736.84" y="117.1" width="2.9" height="0.4" fill="#ffffff" stroke="#ff0000" stroke-width="0.75" stroke-opacity="0.8"/>
<line x1="742.86" y1="116.2" x2="742.86" y2="135.3" stroke="#ff0000" stroke-width="0.85" stroke-opacity="0.75"/>
<rect x="741.26" y="116.2" width="3.2" height="6.5" fill="#ff0000"/>
<line x1="747.42" y1="116.2" x2="747.42" y2="142.9" stroke="#008000" stroke-width="0.85" stroke-opacity="0.75"/>
<rect x="745.97" y="116.6" width="2.9" height="6.3" fill="#ffffff" stroke="#008000" stroke-width="0.75" stroke-opacity="0.8"/>
<line x1="751.99" y1="108.2" x2="751.99" y2="118.7" stroke="#008000" stroke-width="0.85" stroke-opacity="0.75"/>
<rect x="750.54" y="108.6" width="2.9" height="7.7" fill="#ffffff" stroke="#008000" stroke-width="0.75" stroke-opacity="0.8"/>
<line x1="756.56" y1="109.1" x2="756.56" y2="118.9" stroke="#ff0000" stroke-width="0.85" stroke-opacity="0.75"/>
<rect x="754.96" y="109.1" width="3.2" height="6.1" fill="#ff0000"/>
<line x1="761.12" y1="104.4" x2="761.12" y2="116.4" stroke="#008000" stroke-width="0.85" stroke-opacity="0.75"/>
<rect x="759.67" y="113.0" width="2.9" height="3.0" fill="#ffffff" stroke="#008000" stroke-width="0.75" stroke-opacity="0.8"/>
<line x1="765.69" y1="108.9" x2="765.69" y2="116.4" stroke="#ff0000" stroke-width="0.85" stroke-opacity="0.75"/>
<rect x="764.09" y="113.3" width="3.2" height="1.6" fill="#ff0000"/>
<line x1="770.26" y1="112.9" x2="770.26" y2="127.1" stroke="#ff0000" stroke-width="0.85" stroke-opacity="0.75"/>
<rect x="768.66" y="114.5" width="3.2" height="8.8" fill="#ff0000"/>
<line x1="774.83" y1="121.4" x2="774.83" y2="140.3" stroke="#ff0000" stroke-width="0.85" stroke-opacity="0.75"/>
<rect x="773.23" y="124.2" width="3.2" height="13.9" fill="#ff0000"/>
<line x1="779.39" y1="125.0" x2="779.39" y2="142.6" stroke="#008000" stroke-width="0.85" stroke-opacity="0.75"/>
<rect x="777.94" y="125.4" width="2.9" height="13.3" fill="#ffffff" stroke="#008000" stroke-width="0.75" stroke-opacity="0.8"/>
<line x1="783.96" y1="123.3" x2="783.96" y2="130.6" stroke="#ff0000" stroke-width="0.85" stroke-opacity="0.75"/>
<rect x="782.36" y="125.8" width="3.2" height="4.0" fill="#ff0000"/>
<line x1="788.53" y1="112.2" x2="788.53" y2="135.0" stroke="#008000" stroke-width="0.85" stroke-opacity="0.75"/>
<rect x="787.08" y="112.6" width="2.9" height="17.6" fill="#ffffff" stroke="#008000" stroke-width="0.75" stroke-opacity="0.8"/>
<line x1="793.09" y1="107.2" x2="793.09" y2="112.8" stroke="#008000" stroke-width="0.85" stroke-opacity="0.75"/>
<rect x="791.64" y="107.6" width="2.9" height="4.8" fill="#ffffff" stroke="#008000" stroke-width="0.75" stroke-opacity="0.8"/>
<rect x="197" y="195.3" width="330" height="6.1" fill="#5c6884" fill-opacity="0.35"/>
<rect x="562" y="105.1" width="243" height="3.4" fill="#5c6884" fill-opacity="0.35"/>
<path d="M209.7 224.4 C209.8 225.3 209.8 228.1 210.5 230.1 C211.2 232.1 212.4 234.1 214.2 236.3 C216.0 238.5 218.2 241.0 221.2 243.3 C224.1 245.7 228.1 248.3 231.9 250.4 C235.8 252.5 239.9 254.4 244.3 256.1 C248.7 257.8 253.4 259.4 258.4 260.7 C263.4 262.0 268.8 263.2 274.4 264.2 C280.0 265.2 285.6 266.1 292.1 266.9 C298.6 267.7 305.6 268.4 313.3 269.0 C321.0 269.6 329.5 270.0 338.1 270.4 C346.7 270.8 356.9 271.2 365.0 271.2 C373.1 271.2 378.6 270.9 386.6 270.5 C394.6 270.1 404.2 269.5 413.1 268.7 C422.0 267.9 430.8 266.8 439.7 265.5 C448.6 264.2 458.9 262.3 466.3 260.7 C473.7 259.1 478.7 257.8 484.0 256.1 C489.3 254.4 494.0 252.4 498.1 250.4 C502.2 248.4 505.9 246.3 508.8 244.2 C511.8 242.1 514.0 239.8 515.8 237.7 C517.6 235.6 518.7 234.0 519.5 231.8 C520.3 229.6 520.6 225.6 520.8 224.4" fill="none" stroke="#0b7f0b" stroke-width="1.5"/>
<path d="M561.3 120.2 C561.4 120.9 561.7 122.9 562.2 124.4 C562.7 125.9 563.4 127.7 564.4 129.4 C565.4 131.1 566.7 132.6 568.3 134.4 C569.9 136.2 571.8 138.2 573.9 140.0 C576.0 141.8 578.2 143.4 580.6 145.0 C583.0 146.6 585.2 148.0 588.3 149.7 C591.4 151.4 595.7 153.4 599.4 155.0 C603.1 156.6 606.9 157.8 610.6 159.1 C614.3 160.4 618.0 161.6 621.7 162.6 C625.4 163.6 628.9 164.3 632.8 165.2 C636.7 166.0 640.1 166.9 645.0 167.7 C649.9 168.5 655.6 169.6 662.2 170.2 C668.8 170.8 677.0 171.2 684.4 171.1 C691.8 171.0 699.1 170.6 706.7 169.8 C714.3 169.0 724.3 167.4 730.0 166.4 C735.7 165.4 737.4 164.9 741.1 163.9 C744.8 162.9 748.5 161.9 752.2 160.6 C755.9 159.3 759.6 157.7 763.3 156.1 C767.0 154.5 770.7 153.0 774.4 151.1 C778.1 149.2 782.5 146.5 785.6 144.4 C788.8 142.3 791.1 140.2 793.3 138.3 C795.5 136.4 797.3 134.6 798.9 132.8 C800.5 131.1 801.8 129.5 802.8 127.8 C803.8 126.1 804.5 124.1 805.0 122.8 C805.5 121.5 805.7 120.6 805.8 120.2" fill="none" stroke="#0b7f0b" stroke-width="1.5"/>
</g>
<text x="456.5" y="47" text-anchor="middle" font-family='"Liberation Sans", "DejaVu Sans", sans-serif' font-size="18" letter-spacing="0.4" fill="#0a0a0a" stroke="#0a0a0a" stroke-width="0.25" id="t1">Food and Beverage ETF</text>
<text x="458" y="74.5" text-anchor="middle" font-family='"Liberation Sans", "DejaVu Sans", sans-serif' font-size="18" letter-spacing="-0.7" fill="#0a0a0a" stroke="#0a0a0a" stroke-width="0.25" id="t2">(PBJ)</text>
<text x="793.6" y="303" font-family='"Liberation Sans", "DejaVu Sans", sans-serif' font-weight="bold" font-size="11.3" letter-spacing="2.15" fill="#1b2b4d" stroke="#1b2b4d" stroke-width="0.3" id="lg1">ALL STAR</text>
<text x="798.7" y="314.7" font-family='"Liberation Sans", "DejaVu Sans", sans-serif' font-weight="bold" font-size="11.3" letter-spacing="2.66" fill="#1b2b4d" stroke="#1b2b4d" stroke-width="0.3" id="lg2">CHARTS</text>
<polygon points="837.69,287.13 839.71,287.76 841.23,286.28 841.26,288.39 843.14,289.38 841.13,290.07 840.78,292.15 839.50,290.46 837.41,290.77 838.62,289.03" fill="#e0193a"/>
<polygon points="845.37,281.06 847.00,282.41 848.97,281.62 848.19,283.59 849.54,285.22 847.43,285.08 846.30,286.88 845.77,284.83 843.72,284.31 845.51,283.17" fill="#e0193a"/>
<polygon points="854.66,278.39 855.66,280.26 857.78,280.27 856.31,281.80 856.95,283.82 855.04,282.90 853.32,284.13 853.61,282.04 851.90,280.78 853.99,280.40" fill="#e0193a"/>
<polygon points="863.97,279.35 864.22,281.45 866.18,282.24 864.26,283.13 864.11,285.24 862.68,283.68 860.62,284.20 861.66,282.35 860.53,280.56 862.61,280.97" fill="#e0193a"/>
<polygon points="872.66,283.95 872.08,285.99 873.59,287.47 871.48,287.55 870.53,289.45 869.80,287.46 867.71,287.14 869.38,285.84 869.03,283.75 870.78,284.93" fill="#e0193a"/>
<polygon points="879.04,291.77 877.71,293.42 878.51,295.38 876.53,294.61 874.92,295.98 875.03,293.87 873.23,292.75 875.28,292.21 875.78,290.15 876.93,291.93" fill="#e0193a"/>
<polygon points="881.80,301.21 879.94,302.22 879.93,304.34 878.40,302.87 876.38,303.52 877.30,301.61 876.06,299.89 878.16,300.17 879.41,298.46 879.79,300.55" fill="#e0193a"/>
<polygon points="880.84,310.25 878.81,310.51 878.07,312.43 877.19,310.57 875.14,310.46 876.63,309.05 876.11,307.07 877.91,308.05 879.63,306.94 879.25,308.95" fill="#e0193a"/>
<polygon points="877.41,315.49 876.13,315.33 875.37,316.39 875.12,315.11 873.88,314.72 875.02,314.09 875.01,312.79 875.96,313.68 877.20,313.27 876.65,314.45" fill="#e0193a"/>
<polygon points="874.50,319.01 873.46,318.67 872.67,319.42 872.67,318.32 871.71,317.80 872.75,317.46 872.95,316.39 873.59,317.27 874.68,317.13 874.04,318.02" fill="#e0193a"/>
<polygon points="870.98,322.14 870.08,321.64 869.21,322.18 869.42,321.17 868.64,320.51 869.65,320.40 870.04,319.45 870.47,320.38 871.49,320.46 870.73,321.15" fill="#e0193a"/>
<polygon points="867.12,324.46 866.36,323.81 865.44,324.17 865.82,323.25 865.20,322.48 866.19,322.56 866.73,321.73 866.96,322.69 867.91,322.95 867.07,323.47" fill="#e0193a"/>
<polygon points="862.50,326.10 861.92,325.33 860.97,325.48 861.52,324.69 861.09,323.84 862.00,324.11 862.68,323.44 862.71,324.39 863.56,324.83 862.65,325.15" fill="#e0193a"/>
<polygon points="858.14,326.66 857.74,325.87 856.86,325.84 857.49,325.21 857.24,324.36 858.03,324.77 858.77,324.27 858.62,325.15 859.32,325.69 858.45,325.83" fill="#e0193a"/>
<polygon points="853.49,326.36 853.28,325.57 852.48,325.38 853.17,324.93 853.10,324.11 853.74,324.63 854.50,324.31 854.21,325.08 854.74,325.70 853.92,325.66" fill="#e0193a"/>
<polygon points="849.13,325.19 849.08,324.44 848.39,324.12 849.09,323.84 849.18,323.10 849.66,323.67 850.40,323.53 850.00,324.16 850.37,324.82 849.64,324.64" fill="#e0193a"/>
<circle cx="845.83" cy="322.47" r="0.95" fill="#e0193a"/>
<circle cx="843.20" cy="320.69" r="0.75" fill="#e0193a"/>
<circle cx="841.38" cy="319.09" r="0.60" fill="#e0193a"/>
<circle cx="839.78" cy="317.33" r="0.50" fill="#e0193a"/>
<path d="M3.0 421.3 L7.5 427.5 L15.0 433.0 L21.3 440.0 L27.5 451.3 L33.8 462.5 L40.0 473.0 L46.3 478.0 L52.5 480.5 L58.8 486.3 L65.0 487.5 L72.5 487.0 L78.8 482.5 L82.5 472.5 L86.3 460.0 L91.3 451.3 L97.5 440.0 L103.8 427.5 L112.5 421.3 L120.0 415.8 L126.3 414.3 L131.3 416.8 L140.0 418.3 L147.5 422.0 L152.5 428.8 L158.8 440.0 L165.0 451.3 L172.5 457.5 L177.5 454.3 L186.3 453.3 L191.3 450.0 L195.0 445.8 L202.5 445.0 L212.5 440.8 L217.5 442.5 L222.5 449.5 L231.3 451.3 L235.0 455.0 L242.5 462.5 L250.0 475.0 L257.5 483.8 L262.5 486.3 L268.8 484.5 L273.8 486.3 L280.0 490.0 L292.5 490.5 L305.0 491.3 L315.0 492.5 L325.0 491.8 L337.5 493.0 L355.0 493.0 L370.0 493.8 L385.0 493.8 L396.3 493.0 L401.3 487.5 L410.0 487.0 L420.0 486.0 L430.0 485.0 L437.5 481.3 L447.5 480.0 L458.8 479.5 L463.8 476.3 L466.0 470.0 L468.8 465.0 L475.0 462.0 L485.0 461.3 L492.5 463.8 L502.5 462.5 L510.0 462.0 L518.8 452.5 L525.0 437.5 L532.5 420.0 L540.0 407.5 L547.5 398.8 L552.5 397.0 L556.3 399.5 L560.0 407.5 L567.5 413.8 L575.0 420.0 L582.5 423.0 L587.5 431.3 L592.5 443.8 L600.0 457.5 L610.0 472.0 L622.5 473.8 L635.0 478.8 L645.0 482.5 L652.5 487.5 L658.8 486.3 L665.0 480.0 L677.5 480.0 L682.5 479.5 L688.8 476.3 L692.5 475.8 L696.3 479.3 L707.5 480.0 L720.0 478.8 L725.0 476.3 L740.0 475.5 L750.0 477.0 L755.0 487.5 L758.8 491.3 L766.3 493.0 L770.5 495.5 L775.0 490.0 L782.5 489.5 L790.0 488.0 L793.3 487.0 L793.6 513.2 L4 513.2 L4 421.3 Z" fill="url(#gfill)"/>
<path d="M3.0 421.3 L7.5 427.5 L15.0 433.0 L21.3 440.0 L27.5 451.3 L33.8 462.5 L40.0 473.0 L46.3 478.0 L52.5 480.5 L58.8 486.3 L65.0 487.5 L72.5 487.0 L78.8 482.5 L82.5 472.5 L86.3 460.0 L91.3 451.3 L97.5 440.0 L103.8 427.5 L112.5 421.3 L120.0 415.8 L126.3 414.3 L131.3 416.8 L140.0 418.3 L147.5 422.0 L152.5 428.8 L158.8 440.0 L165.0 451.3 L172.5 457.5 L177.5 454.3 L186.3 453.3 L191.3 450.0 L195.0 445.8 L202.5 445.0 L212.5 440.8 L217.5 442.5 L222.5 449.5 L231.3 451.3 L235.0 455.0 L242.5 462.5 L250.0 475.0 L257.5 483.8 L262.5 486.3 L268.8 484.5 L273.8 486.3 L280.0 490.0 L292.5 490.5 L305.0 491.3 L315.0 492.5 L325.0 491.8 L337.5 493.0 L355.0 493.0 L370.0 493.8 L385.0 493.8 L396.3 493.0 L401.3 487.5 L410.0 487.0 L420.0 486.0 L430.0 485.0 L437.5 481.3 L447.5 480.0 L458.8 479.5 L463.8 476.3 L466.0 470.0 L468.8 465.0 L475.0 462.0 L485.0 461.3 L492.5 463.8 L502.5 462.5 L510.0 462.0 L518.8 452.5 L525.0 437.5 L532.5 420.0 L540.0 407.5 L547.5 398.8 L552.5 397.0 L556.3 399.5 L560.0 407.5 L567.5 413.8 L575.0 420.0 L582.5 423.0 L587.5 431.3 L592.5 443.8 L600.0 457.5 L610.0 472.0 L622.5 473.8 L635.0 478.8 L645.0 482.5 L652.5 487.5 L658.8 486.3 L665.0 480.0 L677.5 480.0 L682.5 479.5 L688.8 476.3 L692.5 475.8 L696.3 479.3 L707.5 480.0 L720.0 478.8 L725.0 476.3 L740.0 475.5 L750.0 477.0 L755.0 487.5 L758.8 491.3 L766.3 493.0 L770.5 495.5 L775.0 490.0 L782.5 489.5 L790.0 488.0 L793.3 487.0" fill="none" stroke="#a9b1bd" stroke-width="0.9" stroke-linejoin="round"/>
<path d="M3.0 421.3 C4.6 421.3 9.2 421.1 12.5 421.3 C15.8 421.5 19.2 421.7 22.5 422.5 C25.8 423.3 29.2 424.6 32.5 426.3 C35.8 428.0 39.2 430.0 42.5 432.5 C45.8 435.0 49.2 438.2 52.5 441.3 C55.8 444.4 59.2 448.0 62.5 451.3 C65.8 454.6 69.6 458.7 72.5 461.3 C75.4 463.9 77.5 465.4 80.0 466.8 C82.5 468.2 85.0 469.2 87.5 470.0 C90.0 470.8 92.5 471.5 95.0 471.5 C97.5 471.5 100.0 470.9 102.5 470.0 C105.0 469.1 107.1 468.3 110.0 466.3 C112.9 464.3 116.7 461.1 120.0 458.0 C123.3 454.9 126.7 451.3 130.0 448.0 C133.3 444.7 136.7 441.0 140.0 438.0 C143.3 435.0 147.1 431.9 150.0 430.0 C152.9 428.1 155.0 427.4 157.5 426.8 C160.0 426.2 162.5 426.2 165.0 426.3 C167.5 426.4 169.6 426.7 172.5 427.5 C175.4 428.3 178.8 429.7 182.5 431.3 C186.2 432.9 190.8 435.2 195.0 437.0 C199.2 438.8 203.3 440.4 207.5 442.0 C211.7 443.6 216.2 445.2 220.0 446.3 C223.8 447.4 226.2 448.1 230.0 448.8 C233.8 449.5 238.3 449.7 242.5 450.5 C246.7 451.3 250.8 452.3 255.0 453.8 C259.2 455.3 263.3 457.4 267.5 459.5 C271.7 461.6 275.8 463.8 280.0 466.3 C284.2 468.8 288.3 472.0 292.5 474.5 C296.7 477.0 301.2 479.5 305.0 481.3 C308.8 483.1 311.7 484.3 315.0 485.5 C318.3 486.7 321.2 487.7 325.0 488.5 C328.8 489.3 332.5 489.8 337.5 490.3 C342.5 490.9 349.6 491.4 355.0 491.8 C360.4 492.2 365.0 492.3 370.0 492.5 C375.0 492.7 380.6 492.9 385.0 493.0 C389.4 493.1 392.1 493.5 396.3 493.3 C400.5 493.1 405.2 492.6 410.0 492.0 C414.8 491.4 420.0 490.8 425.0 490.0 C430.0 489.2 435.0 488.3 440.0 487.5 C445.0 486.7 450.8 486.1 455.0 485.3 C459.2 484.5 462.1 483.7 465.0 482.8 C467.9 481.9 469.2 481.2 472.5 480.0 C475.8 478.8 480.8 476.8 485.0 475.5 C489.2 474.2 493.3 473.1 497.5 472.0 C501.7 470.9 505.8 470.2 510.0 468.8 C514.2 467.4 518.3 466.3 522.5 463.8 C526.7 461.3 530.8 457.4 535.0 453.8 C539.2 450.2 543.3 446.0 547.5 442.5 C551.7 439.0 555.8 435.9 560.0 433.0 C564.2 430.1 568.8 427.2 572.5 425.0 C576.2 422.8 579.6 421.2 582.5 420.0 C585.4 418.8 587.7 417.9 590.0 417.5 C592.3 417.1 594.0 417.1 596.3 417.5 C598.6 417.9 601.1 418.3 603.8 420.0 C606.5 421.7 609.4 424.4 612.5 427.5 C615.6 430.6 618.8 434.6 622.5 438.8 C626.2 443.0 630.8 448.3 635.0 452.5 C639.2 456.7 643.3 460.4 647.5 463.8 C651.7 467.2 656.2 470.8 660.0 473.0 C663.8 475.2 666.7 475.9 670.0 477.0 C673.3 478.1 676.2 478.7 680.0 479.3 C683.8 479.9 687.9 480.3 692.5 480.5 C697.1 480.7 702.9 480.6 707.5 480.5 C712.1 480.4 715.4 480.3 720.0 480.0 C724.6 479.7 730.0 478.9 735.0 478.5 C740.0 478.1 745.8 477.4 750.0 477.5 C754.2 477.6 756.7 478.4 760.0 479.0 C763.3 479.6 766.2 480.3 770.0 481.0 C773.8 481.7 778.6 482.4 782.5 483.0 C786.4 483.6 791.5 484.2 793.3 484.5" fill="none" stroke="#ff1a1a" stroke-width="1" stroke-opacity="0.92"/>
<path d="M3.0 413.3 C4.2 413.6 7.6 414.0 10.0 415.0 C12.4 416.0 15.0 417.4 17.5 419.5 C20.0 421.6 22.1 423.9 25.0 427.5 C27.9 431.1 31.7 436.7 35.0 441.3 C38.3 445.9 41.7 450.6 45.0 455.0 C48.3 459.4 51.7 463.7 55.0 467.5 C58.3 471.3 62.1 475.5 65.0 478.0 C67.9 480.5 70.2 481.5 72.5 482.5 C74.8 483.5 76.7 483.9 78.8 483.8 C80.9 483.7 82.7 483.2 85.0 482.0 C87.3 480.8 90.0 478.9 92.5 476.3 C95.0 473.7 97.5 470.1 100.0 466.3 C102.5 462.6 105.0 458.0 107.5 453.8 C110.0 449.6 112.5 445.3 115.0 441.3 C117.5 437.3 120.0 433.1 122.5 430.0 C125.0 426.9 127.5 424.4 130.0 422.5 C132.5 420.6 135.0 419.6 137.5 418.8 C140.0 418.0 142.5 417.5 145.0 417.5 C147.5 417.5 150.0 417.8 152.5 418.8 C155.0 419.9 157.5 421.5 160.0 423.8 C162.5 426.1 165.0 429.6 167.5 432.5 C170.0 435.4 172.5 438.8 175.0 441.3 C177.5 443.8 180.0 445.8 182.5 447.5 C185.0 449.2 187.5 450.5 190.0 451.3 C192.5 452.1 195.0 452.5 197.5 452.5 C200.0 452.5 202.1 452.1 205.0 451.3 C207.9 450.5 211.7 448.5 215.0 447.5 C218.3 446.5 222.1 445.7 225.0 445.5 C227.9 445.3 230.4 445.8 232.5 446.3 C234.6 446.9 235.4 447.7 237.5 448.8 C239.6 449.9 242.5 451.1 245.0 453.0 C247.5 454.9 250.0 457.6 252.5 460.0 C255.0 462.4 257.1 464.8 260.0 467.5 C262.9 470.2 266.7 473.8 270.0 476.3 C273.3 478.8 276.7 480.8 280.0 482.5 C283.3 484.2 286.2 485.7 290.0 486.8 C293.8 487.9 298.3 488.7 302.5 489.3 C306.7 489.9 310.4 490.2 315.0 490.5 C319.6 490.8 324.2 491.1 330.0 491.3 C335.8 491.6 343.3 491.7 350.0 492.0 C356.7 492.3 364.2 492.8 370.0 493.0 C375.8 493.2 380.6 493.3 385.0 493.3 C389.4 493.3 393.0 493.3 396.3 493.0 C399.6 492.7 401.1 492.1 405.0 491.3 C408.9 490.5 415.0 489.1 420.0 488.0 C425.0 486.9 430.0 485.9 435.0 485.0 C440.0 484.1 445.8 483.1 450.0 482.5 C454.2 481.9 456.2 482.6 460.0 481.3 C463.8 480.1 468.3 477.1 472.5 475.0 C476.7 472.9 480.8 470.7 485.0 468.8 C489.2 466.9 493.3 464.9 497.5 463.8 C501.7 462.8 505.8 463.2 510.0 462.5 C514.2 461.8 518.8 461.6 522.5 459.5 C526.2 457.4 529.2 454.3 532.5 450.0 C535.8 445.7 539.2 439.4 542.5 433.8 C545.8 428.2 549.6 420.5 552.5 416.3 C555.4 412.1 557.5 410.5 560.0 408.8 C562.5 407.1 565.0 406.3 567.5 406.0 C570.0 405.7 572.5 406.1 575.0 407.0 C577.5 407.9 580.0 409.1 582.5 411.3 C585.0 413.5 587.1 416.2 590.0 420.0 C592.9 423.8 596.7 429.2 600.0 433.8 C603.3 438.4 606.7 443.1 610.0 447.5 C613.3 451.9 616.7 456.4 620.0 460.0 C623.3 463.6 626.7 466.4 630.0 468.8 C633.3 471.2 636.7 472.9 640.0 474.5 C643.3 476.1 646.7 477.1 650.0 478.3 C653.3 479.5 656.2 481.1 660.0 481.8 C663.8 482.5 668.8 482.5 672.5 482.5 C676.2 482.5 679.2 482.4 682.5 482.0 C685.8 481.6 688.3 480.2 692.5 479.8 C696.7 479.4 702.9 479.5 707.5 479.3 C712.1 479.1 715.4 479.1 720.0 478.8 C724.6 478.5 730.0 477.9 735.0 477.5 C740.0 477.1 746.2 476.1 750.0 476.3 C753.8 476.5 754.6 477.6 757.5 478.8 C760.4 480.1 764.2 482.3 767.5 483.8 C770.8 485.3 774.6 487.0 777.5 488.0 C780.4 489.0 782.4 489.6 785.0 490.0 C787.6 490.4 791.9 490.4 793.3 490.5" fill="none" stroke="#0a820a" stroke-width="0.9" stroke-opacity="0.85"/>
<line x1="618.8" y1="413.8" x2="637.1" y2="426.5" stroke="#0b7f0b" stroke-width="1.5"/><polygon points="643.3,430.8 635.1,429.5 639.2,423.6" fill="#0b7f0b"/>
<line x1="682.0" y1="454.9" x2="710.9" y2="460.1" stroke="#0b7f0b" stroke-width="1.5"/><polygon points="718.3,461.4 710.3,463.6 711.6,456.5" fill="#0b7f0b"/>
<path d="M728.8 488.5 A41 17.6 0 0 0 810.8 488.5" fill="none" stroke="#0b7f0b" stroke-width="1.6"/>
<text x="463.3" y="370.8" text-anchor="middle" font-family='"Liberation Sans", "DejaVu Sans", sans-serif' font-size="14" letter-spacing="0.43" fill="#111" stroke="#111" stroke-width="0.15" id="t3">Monthly Strazza Indicator</text>
<line x1="3.5" y1="1" x2="3.5" y2="536" stroke="#e0e0e0" stroke-width="1"/>
<line x1="3" y1="1.5" x2="957" y2="1.5" stroke="#e0e0e0" stroke-width="1"/>
<line x1="956.5" y1="1" x2="956.5" y2="536" stroke="#e0e0e0" stroke-width="1"/>
<line x1="3" y1="535.5" x2="957" y2="535.5" stroke="#e0e0e0" stroke-width="1"/>
<line x1="3" y1="344.5" x2="957" y2="344.5" stroke="#d8d8d8" stroke-width="1"/>
<line x1="3" y1="516.5" x2="957" y2="516.5" stroke="#d8d8d8" stroke-width="1"/>
<line x1="909.5" y1="1" x2="909.5" y2="516" stroke="#d8d8d8" stroke-width="1"/>
<g clip-path="url(#cpAxP)">
<line x1="909" y1="5.3" x2="912.3" y2="5.3" stroke="#8a8a8a" stroke-width="0.9"/>
<text x="913.6" y="10.3" font-family='"Liberation Sans", "DejaVu Sans", sans-serif' font-size="14" letter-spacing="0.15" fill="#333333" stroke="#333333" stroke-width="0.2" class="pl">72.00</text>
<line x1="909" y1="20.3" x2="912.3" y2="20.3" stroke="#8a8a8a" stroke-width="0.9"/>
<text x="913.6" y="25.3" font-family='"Liberation Sans", "DejaVu Sans", sans-serif' font-size="14" letter-spacing="0.15" fill="#333333" stroke="#333333" stroke-width="0.2" class="pl">68.00</text>
<line x1="909" y1="36.2" x2="912.3" y2="36.2" stroke="#8a8a8a" stroke-width="0.9"/>
<text x="913.6" y="41.2" font-family='"Liberation Sans", "DejaVu Sans", sans-serif' font-size="14" letter-spacing="0.15" fill="#333333" stroke="#333333" stroke-width="0.2" class="pl">64.00</text>
<line x1="909" y1="53.1" x2="912.3" y2="53.1" stroke="#8a8a8a" stroke-width="0.9"/>
<text x="913.6" y="58.1" font-family='"Liberation Sans", "DejaVu Sans", sans-serif' font-size="14" letter-spacing="0.15" fill="#333333" stroke="#333333" stroke-width="0.2" class="pl">60.00</text>
<line x1="909" y1="71.2" x2="912.3" y2="71.2" stroke="#8a8a8a" stroke-width="0.9"/>
<text x="913.6" y="76.2" font-family='"Liberation Sans", "DejaVu Sans", sans-serif' font-size="14" letter-spacing="0.15" fill="#333333" stroke="#333333" stroke-width="0.2" class="pl">56.00</text>
<line x1="909" y1="90.7" x2="912.3" y2="90.7" stroke="#8a8a8a" stroke-width="0.9"/>
<text x="913.6" y="95.7" font-family='"Liberation Sans", "DejaVu Sans", sans-serif' font-size="14" letter-spacing="0.15" fill="#333333" stroke="#333333" stroke-width="0.2" class="pl">52.00</text>
<line x1="909" y1="122.8" x2="912.3" y2="122.8" stroke="#8a8a8a" stroke-width="0.9"/>
<text x="913.6" y="127.8" font-family='"Liberation Sans", "DejaVu Sans", sans-serif' font-size="14" letter-spacing="0.15" fill="#333333" stroke="#333333" stroke-width="0.2" class="pl">46.00</text>
<line x1="909" y1="140.5" x2="912.3" y2="140.5" stroke="#8a8a8a" stroke-width="0.9"/>
<text x="913.6" y="145.5" font-family='"Liberation Sans", "DejaVu Sans", sans-serif' font-size="14" letter-spacing="0.15" fill="#333333" stroke="#333333" stroke-width="0.2" class="pl">43.00</text>
<line x1="909" y1="159.5" x2="912.3" y2="159.5" stroke="#8a8a8a" stroke-width="0.9"/>
<text x="913.6" y="164.5" font-family='"Liberation Sans", "DejaVu Sans", sans-serif' font-size="14" letter-spacing="0.15" fill="#333333" stroke="#333333" stroke-width="0.2" class="pl">40.00</text>
<line x1="909" y1="179.9" x2="912.3" y2="179.9" stroke="#8a8a8a" stroke-width="0.9"/>
<text x="913.6" y="184.9" font-family='"Liberation Sans", "DejaVu Sans", sans-serif' font-size="14" letter-spacing="0.15" fill="#333333" stroke="#333333" stroke-width="0.2" class="pl">37.00</text>
<line x1="909" y1="202.1" x2="912.3" y2="202.1" stroke="#8a8a8a" stroke-width="0.9"/>
<text x="913.6" y="207.1" font-family='"Liberation Sans", "DejaVu Sans", sans-serif' font-size="14" letter-spacing="0.15" fill="#333333" stroke="#333333" stroke-width="0.2" class="pl">34.00</text>
<line x1="909" y1="218.0" x2="912.3" y2="218.0" stroke="#8a8a8a" stroke-width="0.9"/>
<text x="913.6" y="223.0" font-family='"Liberation Sans", "DejaVu Sans", sans-serif' font-size="14" letter-spacing="0.15" fill="#333333" stroke="#333333" stroke-width="0.2" class="pl">32.00</text>
<line x1="909" y1="234.9" x2="912.3" y2="234.9" stroke="#8a8a8a" stroke-width="0.9"/>
<text x="913.6" y="239.9" font-family='"Liberation Sans", "DejaVu Sans", sans-serif' font-size="14" letter-spacing="0.15" fill="#333333" stroke="#333333" stroke-width="0.2" class="pl">30.00</text>
<line x1="909" y1="253.0" x2="912.3" y2="253.0" stroke="#8a8a8a" stroke-width="0.9"/>
<text x="913.6" y="258.0" font-family='"Liberation Sans", "DejaVu Sans", sans-serif' font-size="14" letter-spacing="0.15" fill="#333333" stroke="#333333" stroke-width="0.2" class="pl">28.00</text>
<line x1="909" y1="272.5" x2="912.3" y2="272.5" stroke="#8a8a8a" stroke-width="0.9"/>
<text x="913.6" y="277.5" font-family='"Liberation Sans", "DejaVu Sans", sans-serif' font-size="14" letter-spacing="0.15" fill="#333333" stroke="#333333" stroke-width="0.2" class="pl">26.00</text>
<line x1="909" y1="293.5" x2="912.3" y2="293.5" stroke="#8a8a8a" stroke-width="0.9"/>
<text x="913.6" y="298.5" font-family='"Liberation Sans", "DejaVu Sans", sans-serif' font-size="14" letter-spacing="0.15" fill="#333333" stroke="#333333" stroke-width="0.2" class="pl">24.00</text>
<line x1="909" y1="316.3" x2="912.3" y2="316.3" stroke="#8a8a8a" stroke-width="0.9"/>
<text x="913.6" y="321.3" font-family='"Liberation Sans", "DejaVu Sans", sans-serif' font-size="14" letter-spacing="0.15" fill="#333333" stroke="#333333" stroke-width="0.2" class="pl">22.00</text>
<line x1="909" y1="341.3" x2="912.3" y2="341.3" stroke="#8a8a8a" stroke-width="0.9"/>
<text x="913.6" y="346.3" font-family='"Liberation Sans", "DejaVu Sans", sans-serif' font-size="14" letter-spacing="0.15" fill="#333333" stroke="#333333" stroke-width="0.2" class="pl">20.00</text>
</g>
<g clip-path="url(#cpAxI)">
<line x1="909" y1="362.0" x2="911.6" y2="362.0" stroke="#8a8a8a" stroke-width="0.9"/>
<text x="913.5" y="366.9" font-family='"Liberation Sans", "DejaVu Sans", sans-serif' font-size="14" letter-spacing="0.15" fill="#333333" stroke="#333333" stroke-width="0.2" class="il">0.700</text>
<line x1="909" y1="383.5" x2="911.6" y2="383.5" stroke="#8a8a8a" stroke-width="0.9"/>
<text x="913.5" y="388.4" font-family='"Liberation Sans", "DejaVu Sans", sans-serif' font-size="14" letter-spacing="0.15" fill="#333333" stroke="#333333" stroke-width="0.2" class="il">0.600</text>
<line x1="909" y1="405.0" x2="911.6" y2="405.0" stroke="#8a8a8a" stroke-width="0.9"/>
<text x="913.5" y="409.9" font-family='"Liberation Sans", "DejaVu Sans", sans-serif' font-size="14" letter-spacing="0.15" fill="#333333" stroke="#333333" stroke-width="0.2" class="il">0.500</text>
<line x1="909" y1="426.5" x2="911.6" y2="426.5" stroke="#8a8a8a" stroke-width="0.9"/>
<text x="913.5" y="431.4" font-family='"Liberation Sans", "DejaVu Sans", sans-serif' font-size="14" letter-spacing="0.15" fill="#333333" stroke="#333333" stroke-width="0.2" class="il">0.400</text>
<line x1="909" y1="448.0" x2="911.6" y2="448.0" stroke="#8a8a8a" stroke-width="0.9"/>
<text x="913.5" y="452.9" font-family='"Liberation Sans", "DejaVu Sans", sans-serif' font-size="14" letter-spacing="0.15" fill="#333333" stroke="#333333" stroke-width="0.2" class="il">0.300</text>
<line x1="909" y1="469.5" x2="911.6" y2="469.5" stroke="#8a8a8a" stroke-width="0.9"/>
<line x1="909" y1="491.0" x2="911.6" y2="491.0" stroke="#8a8a8a" stroke-width="0.9"/>
<line x1="909" y1="512.5" x2="911.6" y2="512.5" stroke="#8a8a8a" stroke-width="0.9"/>
</g>
<line x1="908.8" y1="484" x2="911.8" y2="468" stroke="#ff5050" stroke-width="0.8"/>
<line x1="908.8" y1="491.5" x2="912.3" y2="507" stroke="#2f9a2f" stroke-width="0.8"/>
<rect x="912" y="97.8" width="41" height="18.9" fill="#008000"/>
<text x="914.2" y="112.2" font-family='"Liberation Sans", "DejaVu Sans", sans-serif' font-size="14" letter-spacing="0.15" fill="#ffffff" stroke="#ffffff" stroke-width="0.2">48.81</text>
<rect x="912" y="458.1" width="41" height="19.7" fill="#ff0000"/>
<text x="914.2" y="473.0" font-family='"Liberation Sans", "DejaVu Sans", sans-serif' font-size="14" letter-spacing="0.15" fill="#ffffff" stroke="#ffffff" stroke-width="0.2">0.134</text>
<rect x="912" y="477.8" width="41" height="19.0" fill="#778899"/>
<text x="914.2" y="492.3" font-family='"Liberation Sans", "DejaVu Sans", sans-serif' font-size="14" letter-spacing="0.15" fill="#000000" stroke="#000000" stroke-width="0.2">0.121</text>
<rect x="912" y="497.7" width="41" height="18.0" fill="#008000"/>
<text x="914.2" y="511.7" font-family='"Liberation Sans", "DejaVu Sans", sans-serif' font-size="14" letter-spacing="0.15" fill="#ffffff" stroke="#ffffff" stroke-width="0.2">0.106</text>
<rect x="944.0" y="1.7" width="12.5" height="12.5" fill="#ffffff" stroke="#dcdcdc" stroke-width="1"/><rect x="945.9" y="7.3" width="8" height="5.4" rx="0.8" fill="#6e6e6e"/><path d="M947.5 7.6000000000000005 V5.8 A2.4 2.4 0 0 1 952.3 5.8 V7.6000000000000005" fill="none" stroke="#6e6e6e" stroke-width="1.3"/><rect x="949.3" y="9.399999999999999" width="1.2" height="1.6" fill="#b5b5b5"/>
<rect x="944.0" y="344.8" width="12.5" height="12.5" fill="#ffffff" stroke="#dcdcdc" stroke-width="1"/><rect x="945.9" y="350.40000000000003" width="8" height="5.4" rx="0.8" fill="#6e6e6e"/><path d="M947.5 350.7 V348.90000000000003 A2.4 2.4 0 0 1 952.3 348.90000000000003 V350.7" fill="none" stroke="#6e6e6e" stroke-width="1.3"/><rect x="949.3" y="352.5" width="1.2" height="1.6" fill="#b5b5b5"/>
<rect x="951.5" y="257.5" width="5" height="13.6" fill="#ffffff" stroke="#dcdcdc" stroke-width="0.9"/>
<path d="M955.3 261.6 L952.9 264.3 L955.3 267" fill="none" stroke="#555" stroke-width="1"/>
<g clip-path="url(#cpTime)">
<line x1="18.1" y1="517" x2="18.1" y2="535" stroke="#d8d8d8" stroke-width="1"/>
<text x="20.4" y="530.7" font-family='"Liberation Sans", "DejaVu Sans", sans-serif' font-size="14" letter-spacing="0.25" fill="#333333" stroke="#333333" stroke-width="0.2" class="tl">2012</text>
<line x1="127.9" y1="517" x2="127.9" y2="535" stroke="#d8d8d8" stroke-width="1"/>
<text x="130.2" y="530.7" font-family='"Liberation Sans", "DejaVu Sans", sans-serif' font-size="14" letter-spacing="0.25" fill="#333333" stroke="#333333" stroke-width="0.2" class="tl">2014</text>
<line x1="237.6" y1="517" x2="237.6" y2="535" stroke="#d8d8d8" stroke-width="1"/>
<text x="239.9" y="530.7" font-family='"Liberation Sans", "DejaVu Sans", sans-serif' font-size="14" letter-spacing="0.25" fill="#333333" stroke="#333333" stroke-width="0.2" class="tl">2016</text>
<line x1="347.4" y1="517" x2="347.4" y2="535" stroke="#d8d8d8" stroke-width="1"/>
<text x="349.7" y="530.7" font-family='"Liberation Sans", "DejaVu Sans", sans-serif' font-size="14" letter-spacing="0.25" fill="#333333" stroke="#333333" stroke-width="0.2" class="tl">2018</text>
<line x1="457.2" y1="517" x2="457.2" y2="535" stroke="#d8d8d8" stroke-width="1"/>
<text x="459.5" y="530.7" font-family='"Liberation Sans", "DejaVu Sans", sans-serif' font-size="14" letter-spacing="0.25" fill="#333333" stroke="#333333" stroke-width="0.2" class="tl">2020</text>
<line x1="567.0" y1="517" x2="567.0" y2="535" stroke="#d8d8d8" stroke-width="1"/>
<text x="569.2" y="530.7" font-family='"Liberation Sans", "DejaVu Sans", sans-serif' font-size="14" letter-spacing="0.25" fill="#333333" stroke="#333333" stroke-width="0.2" class="tl">2022</text>
<line x1="676.7" y1="517" x2="676.7" y2="535" stroke="#d8d8d8" stroke-width="1"/>
<text x="679.0" y="530.7" font-family='"Liberation Sans", "DejaVu Sans", sans-serif' font-size="14" letter-spacing="0.25" fill="#333333" stroke="#333333" stroke-width="0.2" class="tl">2024</text>
<line x1="786.5" y1="517" x2="786.5" y2="535" stroke="#d8d8d8" stroke-width="1"/>
<text x="788.8" y="530.7" font-family='"Liberation Sans", "DejaVu Sans", sans-serif' font-size="14" letter-spacing="0.25" fill="#333333" stroke="#333333" stroke-width="0.2" class="tl">2026</text>
<line x1="896.3" y1="517" x2="896.3" y2="535" stroke="#d8d8d8" stroke-width="1"/>
<text x="898.6" y="530.7" font-family='"Liberation Sans", "DejaVu Sans", sans-serif' font-size="14" letter-spacing="0.25" fill="#333333" stroke="#333333" stroke-width="0.2" class="tl">2028</text>
</g>
<g clip-path="url(#cpBot)">
<rect x="2.4" y="537.1" width="9.6" height="8" rx="1.8" fill="#1f3b73"/>
<rect x="6.3" y="538.6" width="2.8" height="4" fill="#6f8fc7"/>
<rect x="15" y="538.5" width="3" height="4" rx="1" fill="#1f3b73"/>
<text x="21" y="549.2" font-family='"Liberation Sans", "DejaVu Sans", sans-serif' font-size="13" fill="#777">Monthly</text>
<text x="459" y="549" font-family='"Liberation Sans", "DejaVu Sans", sans-serif' font-size="13" fill="#666">1/1/2020</text>
</g>
</svg>
</body></html>
